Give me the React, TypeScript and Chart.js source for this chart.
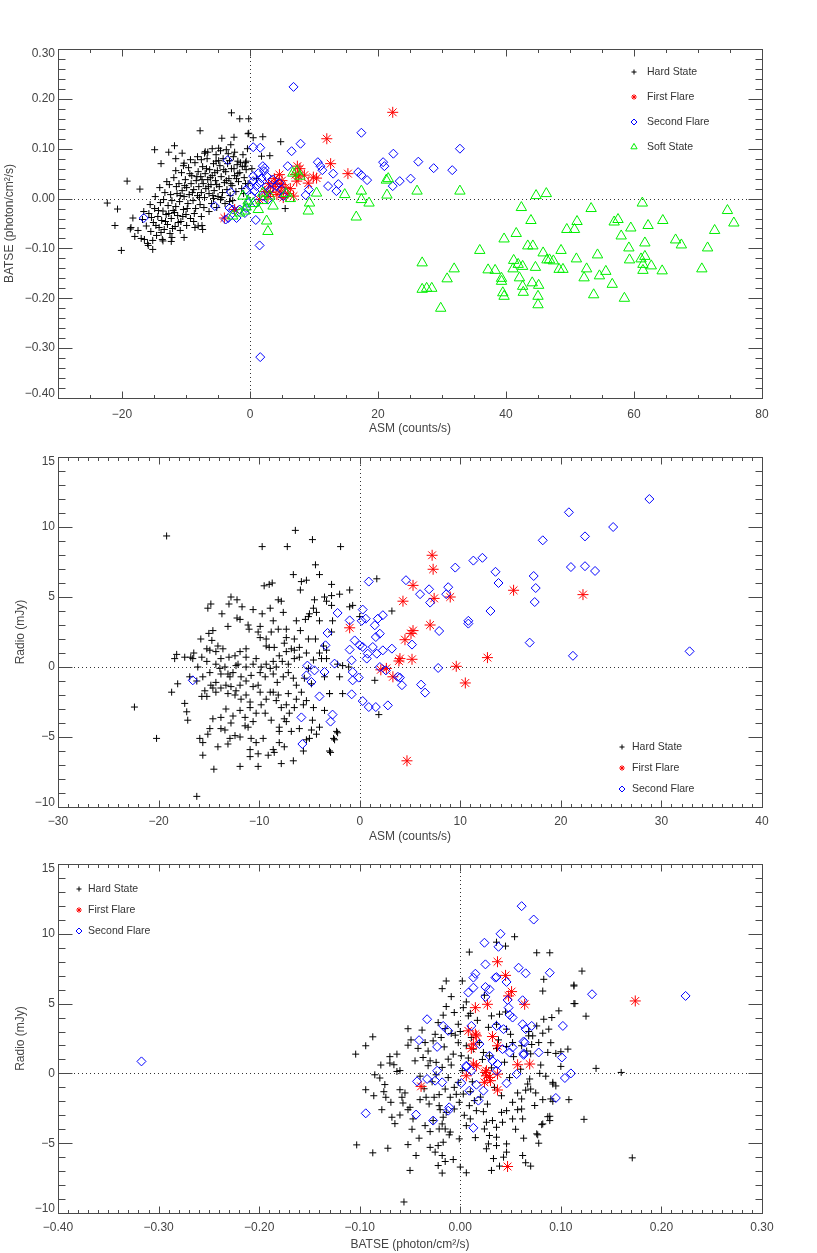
import React, { useEffect, useRef } from 'react';
import { Chart, registerables } from 'chart.js';

Chart.register(...registerables);

type Pt = [number, number];

const SERIES = ['Hard State', 'First Flare', 'Second Flare', 'Soft State'];

// ---------------- Panel 1: ASM (counts/s) vs BATSE (photon/cm^2/s)
const p1XTicks = { min: -30, max: 80, major: 20, minor: 5 };
const p1YTicks = { min: -0.4, max: 0.3, major: 0.1, minor: 0.02 };

const p1Hard: Pt[] = [
  [-2.9,0.172],[-1.6,0.160],[-0.2,0.160],[-0.2,0.131],[-7.8,0.136],[-4.4,0.121],[-2.5,0.123],[-11.8,0.106],[-14.9,0.098],[-12.7,0.093],
  [-10.6,0.091],[-11.6,0.080],[-13.9,0.070],[-10.3,0.071],[-7.1,0.091],[-6.6,0.093],[-4.9,0.101],[-3.0,0.108],[-3.7,0.098],[-5.3,0.075],
  [-7.6,0.078],[-2.4,0.093],[-0.6,0.075],[-1.9,0.075],[-0.8,0.065],[-19.2,0.035],[-17.2,0.019],[-22.3,-0.009],[-20.7,-0.021],[-21.1,-0.054],
  [-18.6,-0.058],[-20.1,-0.104],[-18.0,-0.076],[-16.5,-0.082],[-15.9,-0.094],[-15.2,-0.102],[-13.6,-0.085],[-12.3,-0.086],[-10.3,-0.078],[-8.6,-0.058],
  [-7.5,-0.054],[-3.2,-0.006],[-4.6,-0.002],[-5.7,0.000],[-18.3,-0.039],[-18.7,-0.061],[-7.4,-0.062],[-8.1,-0.055],[-0.3,0.130],[-0.7,0.072],
  [0.5,0.122],[2.0,0.124],[4.8,0.114],[5.5,-0.020],[1.8,0.085],[3.1,0.086],[0.3,0.060],[1.0,0.040],[-0.3,0.030],
  [-16.8,-0.042],[-16.2,-0.055],[-15.8,-0.030],[-15.5,-0.066],[-15.1,-0.048],[-14.9,-0.020],[-14.6,-0.074],[-14.4,-0.036],[-14.2,-0.058],[-14.0,-0.008],
  [-13.8,-0.044],[-13.6,-0.025],[-13.4,-0.062],[-13.3,0.012],[-13.1,-0.032],[-12.9,-0.052],[-12.8,-0.014],[-12.6,0.028],[-12.5,-0.070],[-12.3,-0.040],
  [-12.2,-0.004],[-12.0,-0.024],[-11.9,0.042],[-11.7,-0.056],[-11.6,-0.016],[-11.4,0.010],[-11.3,-0.034],[-11.1,0.030],[-11.0,-0.006],[-10.8,-0.046],
  [-10.7,0.052],[-10.6,0.016],[-10.4,-0.022],[-10.3,0.004],[-10.1,0.038],[-10.0,-0.032],[-9.9,0.022],[-9.7,-0.010],[-9.6,0.062],[-9.5,0.008],
  [-9.3,-0.040],[-9.2,0.030],[-9.1,0.046],[-8.9,-0.004],[-8.8,0.018],[-8.6,0.072],[-8.5,-0.020],[-8.4,0.036],[-8.2,0.006],[-8.1,0.054],
  [-8.0,0.024],[-7.8,-0.012],[-7.7,0.044],[-7.6,0.012],[-7.4,0.064],[-7.3,0.030],[-7.1,0.002],[-7.0,0.050],[-6.9,0.020],[-6.7,0.080],
  [-6.6,0.038],[-6.4,0.010],[-6.3,0.058],[-6.1,0.028],[-6.0,-0.010],[-5.9,0.046],[-5.7,0.070],[-5.6,0.016],[-5.4,0.036],[-5.3,0.088],
  [-5.1,0.056],[-5.0,0.004],[-4.8,0.024],[-4.7,0.066],[-4.5,0.044],[-4.3,0.012],[-4.2,0.080],[-4.0,0.032],[-3.8,0.054],[-3.6,0.018],
  [-3.5,0.070],[-3.3,0.040],[-3.1,0.006],[-2.9,0.060],[-2.8,0.026],[-2.6,0.084],[-2.4,0.046],[-2.2,0.014],[-2.0,0.068],[-1.8,0.034],
  [-1.6,0.052],[-1.3,0.020],[-1.1,0.088],[-0.9,0.042],[-0.6,0.058],[-0.4,0.100],
  [-15.6,-0.012],[-15.2,-0.084],[-14.7,-0.054],[-14.3,-0.024],[-13.9,-0.068],[-13.5,-0.002],[-13.2,-0.046],[-12.7,-0.030],[-12.4,0.008],[-12.1,-0.060],
  [-11.8,-0.028],[-11.5,0.024],[-11.2,-0.048],[-10.9,0.006],[-10.5,-0.036],[-10.2,0.026],[-9.8,-0.020],[-9.4,0.050],[-9.0,0.012],[-8.7,-0.030],
  [-8.3,0.044],[-7.9,0.002],[-7.5,0.038],[-7.2,-0.018],[-6.8,0.060],[-6.5,0.024],[-6.2,0.042],[-5.8,0.006],[-5.5,0.052],[-5.2,0.028],
  [-4.9,0.076],[-4.4,0.002],[-4.1,0.058],[-3.7,0.036],[-3.4,0.090],[-3.0,0.030],[-2.5,0.060],[-2.1,0.040],[-1.5,0.072],[-1.0,0.010],
  [-17.5,-0.064],[-17.0,-0.080],[-16.6,-0.026],[-16.0,-0.090],[-15.4,-0.038],[-14.8,0.004],[-14.1,0.022],[-13.7,-0.082],[-13.0,0.034],[-12.2,-0.078],
  [-11.6,0.056],[-10.9,-0.064],[-10.4,0.066],[-9.9,-0.054],[-9.3,0.078],[-8.8,-0.046],[-8.2,0.084],[-7.6,-0.036],[-7.0,0.094],[-6.4,-0.026],
  [-5.9,0.100],[-5.2,-0.018],[-4.6,0.096],[-3.9,-0.010],[-3.2,0.076],[-2.7,-0.004],[-1.9,0.050],[-1.2,0.064],[-0.7,0.030],
];

const p1First: Pt[] = [
  [22.3,0.173],[12.0,0.120],[12.6,0.070],[15.3,0.050],[7.4,0.065],[7.8,0.060],[7.1,0.048],[7.6,0.045],[8.5,0.047],[7.3,0.035],
  [10.4,0.041],[9.9,0.043],[9.1,0.031],[4.6,0.048],[5.0,0.036],[4.0,0.030],[5.5,0.022],[4.7,0.015],[3.6,0.024],[2.9,0.030],
  [5.9,0.010],[6.3,0.020],[4.2,0.008],[3.2,0.012],[2.8,0.004],[2.3,0.014],[5.2,0.002],[6.8,0.005],[-4.0,-0.039],[-2.4,-0.022],
  [1.5,-0.002],[4.9,0.028],[3.8,0.040],
];

const p1Second: Pt[] = [
  [6.8,0.224],[0.5,0.103],[1.6,0.102],[6.5,0.095],[7.9,0.110],[17.4,0.132],[22.4,0.090],[20.8,0.073],[21.0,0.065],[22.3,0.025],
  [-3.5,0.077],[-5.5,-0.015],[-16.6,-0.039],[-3.0,0.013],[1.5,-0.094],[1.6,-0.318],[0.9,-0.043],[10.6,0.073],[11.0,0.065],[11.3,0.057],
  [13.0,0.050],[12.2,0.025],[13.8,0.029],[13.5,0.015],[16.9,0.053],[17.4,0.047],[18.3,0.037],[8.7,0.007],[9.2,0.018],[5.9,0.065],
  [2.0,0.065],[2.2,0.055],[2.6,0.045],[1.8,0.041],[0.5,0.045],[0.0,0.025],[-0.6,0.018],[0.2,0.005],[1.0,-0.009],[-0.3,-0.009],
  [-0.8,-0.029],[-2.1,-0.039],[-3.4,-0.039],[-2.7,-0.022],[-3.2,-0.019],[-1.6,-0.022],[2.0,0.005],[3.1,0.018],[4.1,0.025],[4.6,0.031],
  [4.9,0.018],[5.2,0.005],[2.6,0.025],[1.5,0.031],[3.6,0.038],[1.0,0.025],[0.7,0.015],[2.8,-0.002],[-0.6,-0.019],[0.5,0.035],
  [2.3,0.061],[1.3,0.051],[-3.8,-0.042],[23.4,0.035],[25.1,0.040],[26.3,0.074],[28.7,0.061],[31.6,0.057],[32.8,0.100],
];

const p1Soft: Pt[] = [
  [6.7,0.051],[7.3,0.055],[7.8,0.045],[10.4,0.011],[9.3,-0.009],[9.1,-0.025],[14.8,0.008],[17.4,0.015],[17.4,-0.002],[18.6,-0.009],
  [16.6,-0.037],[21.3,0.037],[21.6,0.040],[21.4,0.007],[2.6,-0.045],[2.8,-0.066],[3.6,-0.015],[2.0,-0.004],[1.3,-0.022],[0.5,-0.010],
  [-0.6,-0.017],[-1.6,-0.029],[-2.7,-0.035],[-1.1,0.005],[2.0,0.011],[3.1,0.005],[-0.3,-0.005],[-0.8,-0.025],[5.6,0.010],[6.3,0.000],
  [26.1,0.015],[26.9,-0.129],[32.8,0.015],[26.9,-0.182],[27.6,-0.180],[28.4,-0.180],[29.8,-0.220],[30.8,-0.161],[31.9,-0.141],[35.9,-0.104],
  [37.2,-0.143],[38.3,-0.144],[39.3,-0.160],[39.3,-0.166],[39.5,-0.189],[39.7,-0.196],[39.7,-0.081],[41.1,-0.141],[41.2,-0.124],[41.9,-0.132],
  [42.1,-0.159],[42.6,-0.136],[42.6,-0.176],[42.7,-0.188],[41.6,-0.070],[42.4,-0.018],[43.4,-0.095],[44.2,-0.095],[43.9,-0.044],[44.1,-0.169],
  [44.6,-0.138],[45.0,-0.196],[45.0,-0.213],[45.1,-0.174],[44.7,0.006],[46.3,0.010],[45.8,-0.109],[46.4,-0.123],[46.8,-0.123],[47.4,-0.125],
  [48.6,-0.104],[48.3,-0.142],[48.9,-0.142],[49.5,-0.062],[50.7,-0.062],[51.1,-0.046],[51.0,-0.121],[52.2,-0.159],[52.6,-0.141],[53.3,-0.020],
  [53.7,-0.193],[54.3,-0.113],[54.6,-0.155],[55.6,-0.146],[56.6,-0.172],[56.9,-0.047],[57.5,-0.042],[58.0,-0.075],[58.5,-0.200],[59.2,-0.099],
  [59.3,-0.123],[59.5,-0.059],[61.3,-0.009],[61.1,-0.121],[61.4,-0.132],[61.4,-0.144],[61.7,-0.116],[61.7,-0.089],[62.2,-0.054],[62.7,-0.135],
  [64.4,-0.145],[64.5,-0.044],[66.5,-0.083],[67.4,-0.093],[70.6,-0.141],[71.5,-0.099],[72.6,-0.064],[74.6,-0.024],[75.6,-0.049],
];

// ---------------- Panel 2: ASM (counts/s) vs Radio (mJy)
const p2XTicks = { min: -30, max: 40, major: 10, minor: 1 };
const p2YTicks = { min: -10, max: 15, major: 5, minor: 1 };

const p2Hard: Pt[] = [
  [-4.4,7.3],[-6.6,6.6],[-4.0,6.6],[-5.8,6.1],[-5.3,6.2],[-2.8,5.9],[-5.9,5.5],[-1.0,5.5],[-2.8,5.1],[-3.3,4.7],
  [-9.5,5.8],[-9.0,5.9],[-8.7,6.0],[-12.8,5.0],[-12.2,4.8],[-14.8,4.5],[-15.1,4.2],[-13.0,4.5],[-11.7,4.3],[-10.6,4.1],
  [-9.7,3.8],[-8.9,4.2],[-8.1,4.8],[-7.8,4.7],[-7.6,3.9],[-8.6,3.3],[-8.1,2.7],[-7.3,2.7],[-9.9,2.9],[-10.1,2.5],
  [-11.1,3.0],[-12.2,3.5],[-13.1,2.9],[-14.6,2.6],[-15.0,2.4],[-15.8,2.0],[-14.7,1.9],[-14.1,1.5],[-15.2,1.3],[-16.5,1.0],
  [-16.8,0.7],[-18.4,0.6],[-18.2,0.9],[-17.4,0.7],[-15.7,0.7],[-13.8,0.6],[-13.0,0.7],[-12.1,0.2],[-11.3,0.7],[-10.3,0.6],
  [-9.3,1.5],[-9.0,1.4],[-8.5,1.4],[-7.5,1.7],[-6.8,1.3],[-6.5,2.0],[-5.9,2.6],[-5.1,3.6],[-4.6,4.2],[-4.3,3.9],
  [-4.0,3.3],[-5.1,2.0],[-4.4,2.0],[-3.6,1.5],[-2.8,2.5],[-2.7,3.3],[-3.8,0.6],[-3.3,0.6],[-2.2,0.2],[-1.7,0.1],
  [-1.1,0.0],[-5.1,-0.1],[-6.0,0.7],[-6.5,0.6],[-7.1,0.2],[-7.7,0.4],[-8.3,0.0],[-8.9,-0.1],[-9.8,0.0],[-10.6,0.2],
  [-11.3,0.0],[-12.3,0.1],[-13.1,-0.5],[-12.9,-0.7],[-13.8,-0.5],[-14.3,-1.1],[-14.8,-1.3],[-15.4,-1.7],[-15.7,-2.1],[-15.2,-2.1],
  [-14.3,-1.8],[-13.3,-1.3],[-12.8,-1.4],[-12.3,-1.7],[-11.8,-2.3],[-11.3,-2.0],[-10.9,-2.5],[-10.6,-1.4],[-10.1,-1.3],[-9.4,-0.7],
  [-8.6,-0.5],[-8.2,-1.1],[-7.6,-0.7],[-7.1,-0.4],[-6.6,-0.8],[-6.3,-1.3],[-7.1,-1.9],[-8.1,-2.0],[-8.6,-1.8],[-9.3,-2.3],
  [-9.8,-2.7],[-10.3,-3.3],[-10.9,-2.9],[-11.4,-3.6],[-11.9,-3.1],[-12.6,-3.5],[-13.3,-3.0],[-13.8,-3.6],[-14.6,-3.7],[-14.9,-4.4],
  [-15.1,-4.8],[-15.6,-5.4],[-13.8,-4.4],[-13.4,-4.5],[-12.9,-5.1],[-12.4,-4.9],[-11.9,-5.0],[-11.4,-4.2],[-11.1,-4.3],[-10.8,-5.1],
  [-10.3,-5.4],[-9.6,-5.1],[-9.1,-6.3],[-8.6,-5.9],[-8.0,-4.3],[-8.0,-4.6],[-7.5,-3.7],[-7.0,-3.3],[-6.5,-2.9],[-5.6,-2.7],
  [-5.3,-2.4],[-4.6,-2.9],[-4.0,-4.3],[-3.5,-3.1],[-3.0,-1.9],[-2.3,-4.6],[-2.6,-5.1],[-3.0,-6.0],[-4.3,-4.8],[-5.0,-5.1],
  [-5.6,-6.0],[-6.6,-6.7],[-7.8,-6.9],[-8.5,-6.1],[-10.1,-7.1],[-10.9,-5.9],[-11.9,-7.1],[-14.5,-7.3],[-15.6,-6.3],[-15.9,-5.1],
  [-17.1,-3.8],[-17.2,-3.2],[-17.4,-2.6],[-18.7,-1.8],[-18.1,-1.2],[-5.3,-5.2],[-6.0,-4.4],[-6.8,-4.6],[-7.3,-3.9],[-8.8,-3.8],
  [-9.4,-3.3],[-10.6,-3.9],[-12.8,-4.0],[-14.1,-5.7],[-13.1,-5.5],[-10.9,-6.4],[-10.1,-6.2],[-8.0,-5.4],[-7.5,-5.7],[-4.8,-4.5],
  [-4.7,-3.8],[-7.3,-2.7],[-7.8,-2.9],[-8.3,-2.4],[-8.9,-1.8],[-9.9,-1.8],[-11.8,-0.7],[-12.6,-0.4],[-13.4,0.0],[-13.9,-0.1],
  [-14.3,0.2],[-15.2,0.4],[-16.1,0.0],[-16.6,0.6],[-16.9,-0.7],[-16.2,-1.0],[-15.6,-0.7],[-14.9,-0.4],[-14.6,-1.5],[-13.8,-1.5],
  [-13.1,-1.9],[-12.4,-2.0],[-11.9,-1.3],[-11.3,-1.0],[-10.8,-0.6],[-9.9,-0.4],[-9.3,0.2],[-8.6,0.4],[-8.0,0.8],[-7.3,1.1],
  [-6.5,1.2],[-6.0,1.4],[-5.3,1.0],[-4.6,0.5],[-4.0,1.0],[-3.3,1.2],[-2.0,-0.7],[-1.7,-1.9],[-3.0,-1.9],[-3.5,-0.7],
  [-4.8,-1.2],[-5.5,-0.8],[-5.8,-1.8],[-6.3,-2.3],[-11.3,1.3],[-11.9,1.1],[-12.4,0.8],[-13.6,1.3],[-14.3,1.1],[-14.9,1.2],
  [-13.7,3.8],[-11.9,3.4],[-11.0,2.7],[-9.9,2.1],[-9.3,2.0],[-8.8,2.5],[-7.3,2.1],[-6.3,3.3],[-5.4,3.4],[-5.0,3.8],
  [-4.5,4.8],[-3.5,5.0],[-2.8,4.4],[-2.0,5.2],[-1.0,4.3],[-0.7,4.4],[0.0,3.6],
  [-22.4,-2.86],[-20.2,-5.1],[-19.2,9.36],[-16.2,-9.24],[-6.4,9.76],[-4.7,9.1],[-9.7,8.6],[-7.2,8.6],[-1.9,8.6],[1.7,6.3],
  [3.2,4.0],[1.5,-0.95],[1.9,-3.4],[-2.9,-6.1],[-2.5,-5.2],[-2.2,-4.7],
];

const p2First: Pt[] = [
  [-1.0,2.8],[2.1,-0.2],[2.65,-0.1],[3.3,-0.7],[3.9,0.43],[7.2,7.98],[7.3,6.98],[5.3,5.83],[4.3,4.7],[7.4,4.9],
  [9.0,5.0],[15.3,5.48],[22.2,5.17],[7.0,3.0],[5.3,2.6],[5.1,2.4],[4.5,1.95],[4.0,0.6],[5.2,0.55],[12.7,0.67],
  [9.6,0.05],[10.5,-1.14],[4.7,-6.7],
];

const p2Second: Pt[] = [
  [-16.6,-0.95],[0.9,6.1],[-2.2,3.86],[-3.2,2.43],[-3.4,1.55],[-1.0,3.33],[0.3,4.1],[0.2,3.3],[0.6,3.45],[-0.5,1.9],
  [-1.0,1.24],[-0.8,0.48],[0.0,1.55],[0.3,1.43],[0.8,0.95],[0.7,0.6],[1.5,2.98],[1.8,3.45],[2.3,3.7],[2.0,2.38],
  [1.6,2.14],[1.3,1.43],[1.7,0.95],[2.3,1.19],[3.2,1.31],[-5.2,0.1],[-5.3,-0.6],[-4.8,-1.07],[-4.0,-2.1],[-4.5,-0.24],
  [-3.5,-0.36],[-2.5,0.24],[-5.8,-3.6],[-5.7,-5.5],[-2.7,-3.4],[-2.9,-3.9],[-0.8,-1.95],[-0.7,-0.36],[-0.7,-0.95],[-0.1,-0.76],
  [0.3,-2.43],[0.9,-2.86],[1.6,-2.86],[2.8,-2.74],[2.0,0.0],[2.6,-0.24],[3.8,-0.7],
  [4.6,6.2],[6.0,5.2],[6.9,5.55],[7.0,4.6],[5.2,1.6],[7.9,2.57],[7.8,-0.07],[8.8,5.7],[8.6,5.2],
  [9.5,7.1],[10.8,3.3],[10.8,3.1],[11.3,7.6],[12.2,7.8],[13.0,4.0],[13.5,6.8],[13.8,6.0],[16.9,1.74],[17.3,6.5],
  [17.5,5.64],[17.4,4.64],[18.2,9.05],[20.8,11.05],[21.0,7.14],[21.2,0.8],[22.4,9.33],[22.4,7.2],[23.4,6.86],[25.2,10.0],
  [28.8,12.0],[32.8,1.12],[4.0,-0.76],[4.2,-1.3],[6.1,-1.26],[6.5,-1.83],
];

// ---------------- Panel 3: BATSE (photon/cm^2/s) vs Radio (mJy)
const p3XTicks = { min: -0.4, max: 0.3, major: 0.1, minor: 0.01 };
const p3YTicks = { min: -10, max: 15, major: 5, minor: 1 };

const p3Hard: Pt[] = [
  [0.009,8.69],[0.054,9.79],[0.036,9.40],[0.045,9.12],[0.076,8.64],[0.089,8.64],[0.083,6.74],[0.082,5.90],[0.113,6.26],[0.113,5.00],
  [0.098,4.48],[0.091,4.00],[0.083,3.88],[0.076,3.40],[0.088,3.17],[0.082,2.88],[0.072,2.69],[0.068,2.69],[0.046,3.17],[0.036,3.52],
  [0.031,4.12],[0.039,4.24],[-0.014,6.62],[-0.018,6.07],[-0.009,5.50],[-0.014,4.79],[0.002,6.62],[0.006,5.12],[0.003,4.71],[0.008,4.12],
  [-0.006,4.36],[-0.017,4.17],[-0.022,3.64],[-0.002,3.52],[-0.009,2.86],[-0.005,2.74],[-0.015,3.21],[-0.019,2.57],[-0.027,2.33],[-0.035,2.21],
  [-0.049,2.40],[-0.052,2.02],[-0.042,1.79],[-0.037,1.14],[-0.030,0.90],[-0.032,0.55],[-0.024,0.79],[-0.018,0.43],[-0.012,1.02],[-0.007,1.38],
  [0.001,1.26],[0.006,1.98],[0.011,2.57],[0.019,2.21],[0.013,1.74],[0.023,1.50],[0.029,1.26],[0.036,1.79],[0.046,1.93],[0.052,2.21],
  [0.061,1.98],[0.066,1.60],[0.071,2.07],[0.078,2.21],[0.087,1.50],[0.095,1.43],[0.100,1.55],[0.107,1.74],[-0.087,2.62],[-0.094,1.98],
  [-0.104,1.38],[-0.063,1.38],[-0.070,0.74],[-0.079,0.60],[-0.066,0.62],[-0.063,0.14],[-0.080,-0.33],[-0.094,-1.17],[-0.086,-1.60],[-0.076,-1.31],
  [-0.074,-1.71],[-0.060,-1.17],[-0.058,-1.71],[-0.057,-2.12],[-0.069,-2.07],[-0.078,-2.60],[-0.068,-3.14],[-0.060,-2.98],[-0.050,-2.43],[-0.047,-3.26],
  [-0.052,-2.60],[-0.040,-1.88],[-0.034,-1.71],[-0.026,-1.71],[-0.031,-2.19],[-0.021,-1.52],[-0.015,-1.12],[-0.006,-1.00],[-0.002,-0.64],[0.003,-1.48],
  [0.010,-1.31],[0.014,-1.95],[0.009,-2.31],[-0.001,-2.07],[-0.010,-1.71],[-0.021,-2.31],[-0.014,-2.79],[-0.006,-2.55],[-0.017,-3.14],[-0.018,-3.62],
  [-0.021,-3.98],[-0.015,-3.98],[-0.011,-4.40],[-0.017,-4.93],[-0.022,-5.17],[-0.025,-5.64],[-0.018,-5.88],[-0.015,-6.31],[-0.022,-6.60],[-0.018,-7.14],
  [-0.007,-6.17],[0.000,-6.71],[0.006,-7.12],[-0.001,-4.69],[0.006,-3.74],[0.010,-3.26],[0.016,-2.67],[0.023,-2.74],[0.026,-3.50],[0.024,-3.98],
  [0.029,-4.45],[0.036,-3.86],[0.032,-3.38],[0.041,-2.79],[0.046,-2.67],[0.052,-3.26],[0.061,-2.55],[0.062,-3.26],[0.042,-3.50],[0.036,-4.57],
  [0.028,-5.05],[0.026,-5.40],[0.036,-5.17],[0.046,-5.05],[0.046,-5.64],[0.043,-6.00],[0.039,-6.64],[0.031,-6.95],[0.062,-5.88],[0.065,-6.40],
  [0.070,-6.64],[0.063,-4.64],[0.077,-4.40],[0.082,-3.62],[0.089,-3.38],[0.089,-3.07],[0.092,-2.00],[0.082,-1.88],[0.075,-1.40],[0.070,-1.12],
  [0.067,-0.76],[0.057,-1.40],[0.052,-2.07],[0.061,-1.83],[0.069,-0.40],[0.079,0.00],[0.092,-0.64],[0.108,-1.88],[-0.103,-5.12],[-0.087,-5.69],
  [-0.072,-5.36],[-0.052,-5.10],[-0.044,-5.88],[-0.050,-6.95],[-0.041,-4.64],[-0.030,-4.17],[-0.035,-3.74],[-0.027,-3.38],[-0.056,-9.21],
  [0.135,0.36],[0.160,0.07],[0.171,-6.05],[0.123,-3.29],[0.121,7.33],[0.113,6.33],[0.114,5.00],[0.125,4.10],[0.092,-0.76],[0.090,-1.83],
  [0.087,-3.10],[0.081,-3.67],[0.076,-4.33],
  [-0.045,0.9],[-0.040,-0.2],[-0.036,-1.1],[-0.032,1.6],[-0.028,-0.6],[-0.025,2.8],[-0.020,-2.6],[-0.016,1.9],[-0.012,-0.3],[-0.009,0.6],
  [-0.004,-1.5],[-0.002,2.2],[0.002,0.2],[0.004,-3.0],[0.008,1.1],[0.012,-0.6],[0.017,3.8],[0.020,-1.7],[0.022,1.0],[0.027,-2.2],
  [0.031,0.4],[0.034,-1.0],[0.038,2.4],[0.041,-1.6],[0.044,0.8],[0.049,-0.3],[0.053,1.2],[0.057,-2.6],[0.060,0.3],[0.065,-1.2],
  [0.070,1.4],[0.074,-2.3],[0.080,0.6],[0.085,-0.2],[-0.055,-1.4],[-0.060,0.2],[-0.065,-3.6],[-0.070,1.2],[-0.048,-4.0],[-0.038,3.1],
  [-0.030,-5.3],[-0.024,-0.1],[-0.010,-4.2],[0.000,3.0],[0.015,-4.6],[0.024,5.6],[0.033,-6.1],[0.045,4.4],[0.055,-4.0],[0.068,3.0],
  [0.078,-5.0],[0.090,2.2],[0.095,-0.9],[0.100,0.5],[-0.075,-0.8],[-0.085,-0.1],[-0.052,3.2],[0.010,4.3],[0.028,3.3],[0.050,2.8],
];

const p3First: Pt[] = [
  [0.037,8.0],[0.045,7.02],[0.051,5.86],[0.048,5.55],[0.064,4.95],[0.027,4.95],[0.015,4.71],[0.174,5.19],[0.008,3.05],[0.015,2.81],
  [0.013,2.10],[0.032,2.64],[0.037,1.98],[0.013,0.67],[0.016,0.55],[0.006,-0.17],[0.025,0.07],[0.026,-0.17],[0.029,-0.29],[0.024,-0.64],
  [0.037,-0.05],[0.037,-1.19],[0.057,0.62],[0.069,0.67],[-0.039,-0.93],[0.047,-6.67],[0.011,1.79],[0.016,2.69],[0.026,0.19],[0.030,-0.52],
];

const p3Second: Pt[] = [
  [0.061,11.98],[0.073,11.02],[0.040,10.0],[0.024,9.36],[0.038,9.07],[0.025,7.81],[0.058,7.57],[0.065,7.17],[0.089,7.21],[0.015,7.14],
  [0.013,6.86],[0.013,6.14],[0.036,6.9],[0.046,6.55],[0.025,6.19],[0.029,6.02],[0.008,5.79],[0.025,5.48],[0.131,5.67],[0.224,5.55],
  [0.047,5.26],[0.062,5.24],[0.048,4.71],[0.049,4.19],[0.052,4.0],[-0.033,3.88],[-0.017,3.40],[-0.012,3.05],[0.062,3.52],[0.071,3.40],
  [0.065,3.17],[0.102,3.40],[-0.041,2.38],[-0.023,1.90],[0.019,2.10],[0.063,2.29],[0.078,1.5],[0.101,1.14],[0.042,1.74],[0.049,1.5],
  [0.052,1.86],[0.063,1.43],[0.029,1.26],[0.032,0.9],[0.037,0.67],[0.036,0.19],[0.006,0.55],[0.011,0.19],[-0.023,0.19],[-0.043,-0.57],
  [-0.033,-0.40],[-0.025,-0.52],[-0.018,-0.64],[0.056,-0.05],[0.104,-0.33],[0.110,0.0],[0.046,-0.71],[0.016,-0.81],[0.009,-1.24],[0.018,-1.95],
  [-0.011,-2.43],[-0.012,-2.67],[-0.027,-3.38],[-0.044,-2.95],[0.013,-3.90],[0.095,-1.76],[0.001,-0.69],[0.023,-1.24],[0.006,0.48],[0.043,3.17],
  [0.064,2.21],[0.063,1.33],[0.035,6.86],[0.036,3.40],[0.011,3.40],[-0.317,0.86],[-0.094,-2.86],
];

// ---------------- styles
const TEXT = '#444444';
const FRAME = '#4a4a4a';
const FONT = "'Liberation Sans', Arial, sans-serif";

const MARKERS = [
  { style: 'cross', radius: 3.5, color: '#000000', legendR: 2.5 },
  { style: 'star', radius: 5.5, color: '#ff0000', legendR: 2.8 },
  { style: 'rectRot', radius: 4.5, color: '#0000ff', legendR: 3 },
  { style: 'triangle', radius: 6, color: '#00ee00', legendR: 3.6 },
];

type TickSpec = { min: number; max: number; major: number; minor: number };

const minus = (s: string) => s.replace('-', '\u2212');
const fmtInt = (v: number) => minus(String(Math.round(v)));
const fmt2 = (v: number) => {
  const r = Math.abs(v) < 1e-9 ? 0 : v;
  return minus(r.toFixed(2));
};

function drawSymbol(ctx: CanvasRenderingContext2D, style: string, x: number, y: number, r: number, color: string) {
  ctx.save();
  ctx.strokeStyle = color;
  ctx.lineWidth = 1;
  ctx.beginPath();
  if (style === 'cross') {
    ctx.moveTo(x - r, y); ctx.lineTo(x + r, y);
    ctx.moveTo(x, y - r); ctx.lineTo(x, y + r);
  } else if (style === 'star') {
    for (let k = 0; k < 4; k++) {
      const a = (k * Math.PI) / 4;
      ctx.moveTo(x - Math.cos(a) * r, y - Math.sin(a) * r);
      ctx.lineTo(x + Math.cos(a) * r, y + Math.sin(a) * r);
    }
  } else if (style === 'rectRot') {
    ctx.moveTo(x - r, y); ctx.lineTo(x, y - r); ctx.lineTo(x + r, y); ctx.lineTo(x, y + r); ctx.closePath();
  } else {
    const h = r * 0.866;
    ctx.moveTo(x, y - r); ctx.lineTo(x + h, y + r / 2); ctx.lineTo(x - h, y + r / 2); ctx.closePath();
  }
  ctx.stroke();
  ctx.restore();
}

const idlPlugin = {
  id: 'idlFrame',
  beforeDatasetsDraw(chart: any) {
    const { ctx, chartArea: a, scales } = chart;
    const x0 = Math.round(scales.x.getPixelForValue(0)) + 0.5;
    const y0 = Math.round(scales.y.getPixelForValue(0)) + 0.5;
    ctx.save();
    ctx.strokeStyle = '#333333';
    ctx.lineWidth = 1;
    ctx.setLineDash([1, 3]);
    ctx.beginPath();
    ctx.moveTo(a.left, y0); ctx.lineTo(a.right, y0);
    ctx.moveTo(x0, a.top); ctx.lineTo(x0, a.bottom);
    ctx.stroke();
    ctx.restore();
  },
  afterDraw(chart: any, _a: any, opts: any) {
    const { ctx, chartArea: a, scales } = chart;
    const L = Math.round(a.left) + 0.5, R = Math.round(a.right) + 0.5;
    const T = Math.round(a.top) + 0.5, B = Math.round(a.bottom) + 0.5;
    ctx.save();
    ctx.strokeStyle = FRAME;
    ctx.lineWidth = 1;
    ctx.strokeRect(L, T, R - L, B - T);
    ctx.beginPath();
    const xt: TickSpec = opts.xt, yt: TickSpec = opts.yt;
    const nx = Math.round((xt.max - xt.min) / xt.minor);
    for (let i = 0; i <= nx; i++) {
      const v = xt.min + i * xt.minor;
      const q = v / xt.major;
      const isMajor = Math.abs(q - Math.round(q)) < 1e-6;
      const len = isMajor ? 7 : 3.5;
      const px = Math.round(scales.x.getPixelForValue(v)) + 0.5;
      ctx.moveTo(px, B); ctx.lineTo(px, B - len);
      ctx.moveTo(px, T); ctx.lineTo(px, T + len);
    }
    const ny = Math.round((yt.max - yt.min) / yt.minor);
    for (let i = 0; i <= ny; i++) {
      const v = yt.min + i * yt.minor;
      const q = v / yt.major;
      const isMajor = Math.abs(q - Math.round(q)) < 1e-6;
      const len = isMajor ? 14 : 7;
      const py = Math.round(scales.y.getPixelForValue(v)) + 0.5;
      ctx.moveTo(L, py); ctx.lineTo(L + len, py);
      ctx.moveTo(R, py); ctx.lineTo(R - len, py);
    }
    ctx.stroke();

    // y tick labels, kept within the plot's vertical extent (IDL style)
    ctx.font = `12px ${FONT}`;
    ctx.fillStyle = TEXT;
    ctx.textAlign = 'right';
    ctx.textBaseline = 'middle';
    scales.y.ticks.forEach((t: any) => {
      let py = scales.y.getPixelForValue(t.value);
      py = Math.min(Math.max(py, a.top + 5), a.bottom - 4.5);
      ctx.fillText(opts.yFmt(t.value), a.left - 3, py);
    });

    // legend
    const lg = opts.legend;
    ctx.font = `10.5px ${FONT}`;
    ctx.fillStyle = '#333333';
    ctx.textBaseline = 'middle';
    ctx.textAlign = 'left';
    chart.data.datasets.forEach((ds: any, i: number) => {
      const m = MARKERS[ds.markerIndex];
      const y = lg.y + i * lg.dy;
      drawSymbol(ctx, m.style, lg.x, y, m.legendR, m.color);
      ctx.fillText(ds.label, lg.x + lg.dx, y);
    });
    ctx.restore();
  },
};

type PanelSpec = {
  top: number;
  height: number;
  padTop: number;
  xHeight: number;
  series: Pt[][];
  xt: TickSpec;
  yt: TickSpec;
  xFmt: (v: number) => string;
  yFmt: (v: number) => string;
  xTitle: string;
  yTitle: string;
  xLabelPad: number;
  xTitlePad: number;
  yTitlePad: number;
  legend: { x: number; y: number; dy: number; dx: number };
};

function makeConfig(p: PanelSpec): any {
  const datasets = p.series.map((pts, i) => {
    const m = MARKERS[i];
    return {
      label: SERIES[i],
      markerIndex: i,
      data: pts.map(([x, y]) => ({ x, y })),
      pointStyle: m.style,
      pointRadius: m.radius,
      pointHoverRadius: m.radius,
      pointBorderColor: m.color,
      pointBackgroundColor: 'rgba(0,0,0,0)',
      pointBorderWidth: 1,
      showLine: false,
      order: p.series.length - i,
    };
  });
  const tickFont = { family: FONT, size: 12 };
  return {
    type: 'scatter',
    data: { datasets },
    options: {
      animation: false,
      responsive: false,
      devicePixelRatio: 1,
      events: [],
      layout: { padding: { left: 0, right: 55, top: p.padTop, bottom: 0 } },
      plugins: {
        legend: { display: false },
        tooltip: { enabled: false },
        idlFrame: { xt: p.xt, yt: p.yt, legend: p.legend, yFmt: p.yFmt },
      },
      scales: {
        x: {
          type: 'linear',
          position: 'bottom',
          min: p.xt.min,
          max: p.xt.max,
          grid: { display: false, drawTicks: false },
          border: { display: false },
          ticks: {
            stepSize: p.xt.major,
            includeBounds: false,
            autoSkip: false,
            maxRotation: 0,
            padding: p.xLabelPad,
            color: TEXT,
            font: tickFont,
            callback: (v: any) => p.xFmt(Number(v)),
          },
          title: {
            display: true,
            text: p.xTitle,
            color: TEXT,
            font: tickFont,
            padding: { top: 0, bottom: p.xTitlePad },
          },
          afterFit: (s: any) => { s.height = p.xHeight; },
        },
        y: {
          type: 'linear',
          position: 'left',
          min: p.yt.min,
          max: p.yt.max,
          grid: { display: false, drawTicks: false },
          border: { display: false },
          ticks: {
            display: false,
            stepSize: p.yt.major,
            includeBounds: false,
            autoSkip: false,
          },
          title: {
            display: true,
            text: p.yTitle,
            color: TEXT,
            font: tickFont,
            padding: { top: p.yTitlePad, bottom: 0 },
          },
          afterFit: (s: any) => { s.width = 58; },
        },
      },
    },
    plugins: [idlPlugin],
  };
}

const PANELS: PanelSpec[] = [
  {
    top: 0, height: 440, padTop: 49, xHeight: 42,
    series: [p1Hard, p1First, p1Second, p1Soft],
    xt: p1XTicks, yt: p1YTicks, xFmt: fmtInt, yFmt: fmt2,
    xTitle: 'ASM (counts/s)', yTitle: 'BATSE (photon/cm\u00B2/s)',
    xLabelPad: 9, xTitlePad: 4, yTitlePad: 2,
    legend: { x: 634, y: 72, dy: 25, dx: 13 },
  },
  {
    top: 440, height: 405, padTop: 17, xHeight: 38,
    series: [p2Hard, p2First, p2Second],
    xt: p2XTicks, yt: p2YTicks, xFmt: fmtInt, yFmt: fmtInt,
    xTitle: 'ASM (counts/s)', yTitle: 'Radio (mJy)',
    xLabelPad: 7, xTitlePad: 1, yTitlePad: 13,
    legend: { x: 622, y: 307, dy: 21, dx: 10 },
  },
  {
    top: 845, height: 408, padTop: 19, xHeight: 40,
    series: [p3Hard, p3First, p3Second],
    xt: p3XTicks, yt: p3YTicks, xFmt: fmt2, yFmt: fmtInt,
    xTitle: 'BATSE (photon/cm\u00B2/s)', yTitle: 'Radio (mJy)',
    xLabelPad: 7.5, xTitlePad: 1, yTitlePad: 13,
    legend: { x: 79, y: 44, dy: 21, dx: 9 },
  },
];

function Panel({ spec }: { spec: PanelSpec }) {
  const ref = useRef<HTMLCanvasElement | null>(null);
  useEffect(() => {
    if (!ref.current) return;
    const chart = new Chart(ref.current, makeConfig(spec));
    return () => chart.destroy();
  }, [spec]);
  return (
    <canvas
      ref={ref}
      width={817}
      height={spec.height}
      style={{ position: 'absolute', left: 0, top: spec.top, width: 817, height: spec.height, display: 'block' }}
    />
  );
}

export default function App() {
  return (
    <div style={{ position: 'absolute', left: 0, top: 0, width: 817, height: 1253, background: '#ffffff' }}>
      {PANELS.map((p, i) => (
        <Panel key={i} spec={p} />
      ))}
    </div>
  );
}
